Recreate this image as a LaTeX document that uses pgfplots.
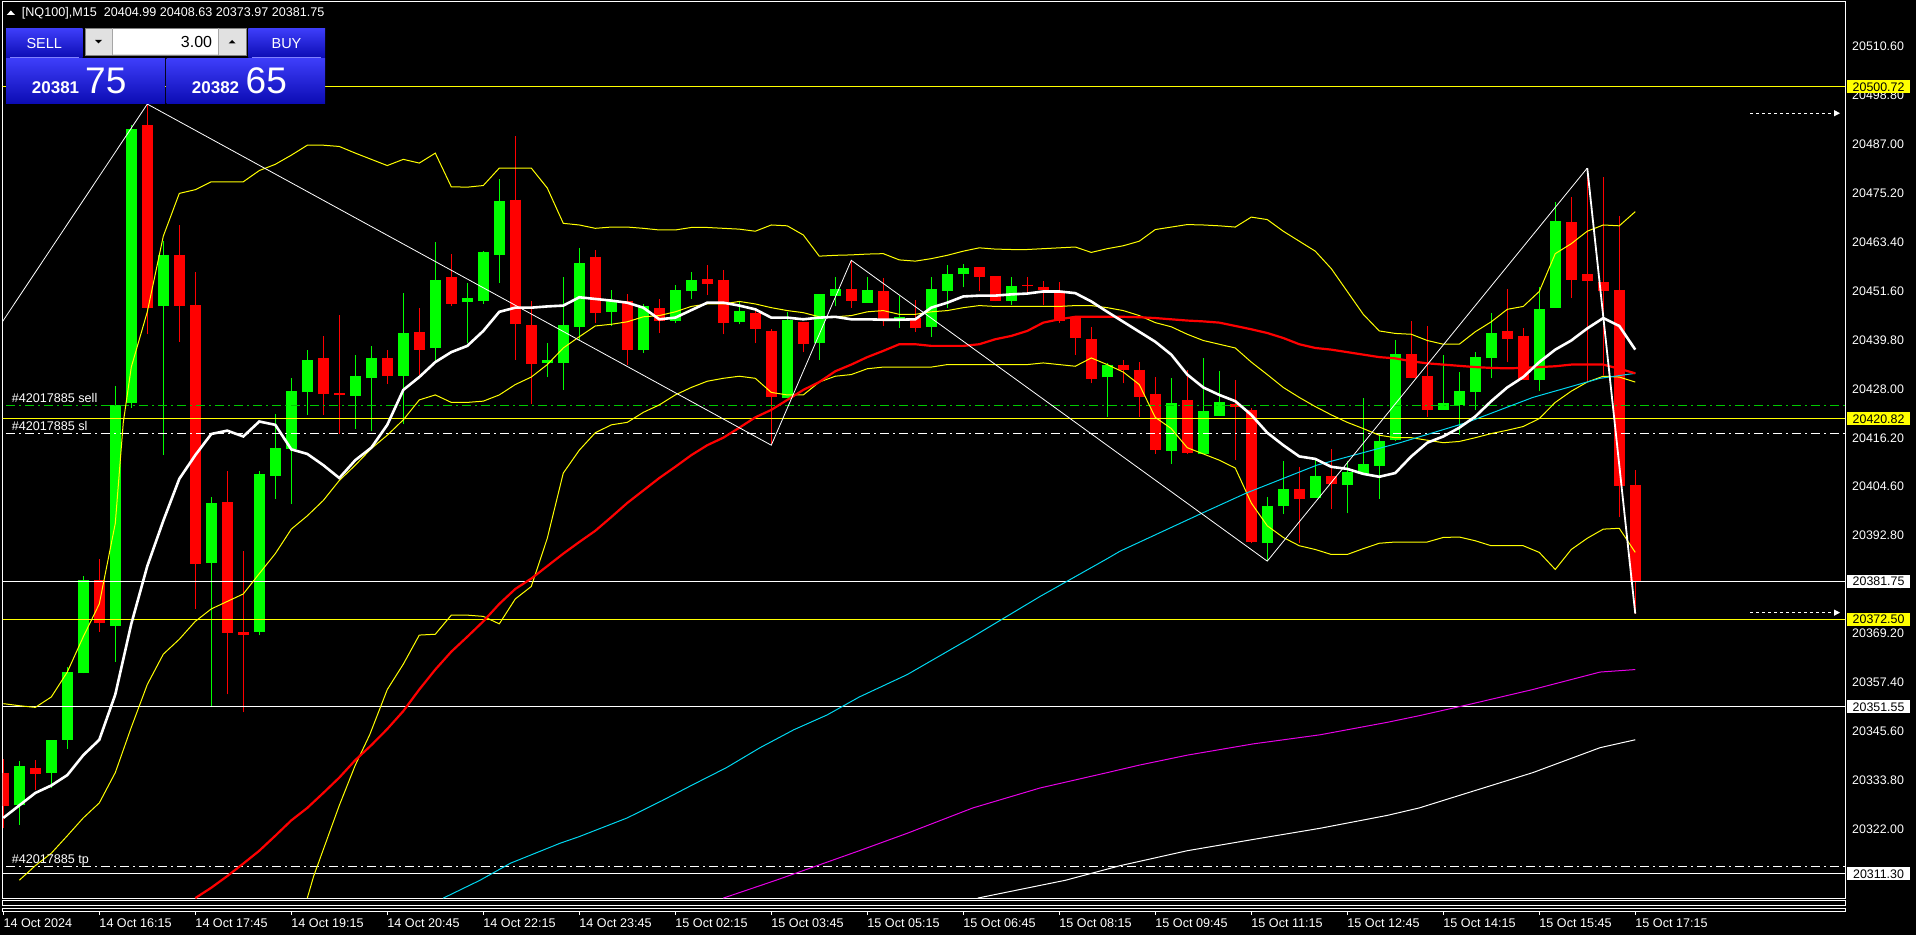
\documentclass[border=0pt]{standalone}
\usepackage{pgfplots}
\pgfplotsset{compat=1.18}
\usepackage{pgfplotstable}
\usepackage{fontspec}
\setmainfont{Liberation Sans}
\usetikzlibrary{arrows.meta}

\definecolor{mtgreen}{RGB}{0,255,0}
\definecolor{mtred}{RGB}{255,0,0}
\definecolor{mtyellow}{RGB}{255,255,0}
\definecolor{mtcyan}{RGB}{0,215,240}
\definecolor{mtmag}{RGB}{230,0,230}
\definecolor{ordgreen}{RGB}{0,200,0}
\definecolor{btntop}{RGB}{62,62,250}
\definecolor{btnbot}{RGB}{12,12,180}
\definecolor{btnline}{RGB}{130,130,255}
\definecolor{spin}{RGB}{225,225,225}

\newcommand\tf{\fontsize{12.6}{15}\selectfont}

\pgfplotstableread{
i O H L C u
0 20335.7 20339.0 20322.3 20327.6 0
1 20327.8 20338.5 20323.2 20337.3 1
2 20336.9 20338.7 20331.4 20335.4 0
3 20335.7 20343.6 20332.0 20343.6 1
4 20343.6 20361.1 20341.4 20359.9 1
5 20359.6 20383.0 20359.6 20382.1 1
6 20382.0 20387.2 20369.6 20371.7 0
7 20371.1 20428.7 20362.4 20424.2 1
8 20424.6 20491.5 20423.4 20490.5 1
9 20491.5 20496.6 20441.2 20447.6 0
10 20447.9 20463.6 20412.1 20460.3 1
11 20460.3 20467.5 20439.4 20447.9 0
12 20448.2 20456.3 20375.1 20385.8 0
13 20386.2 20402.0 20351.4 20400.6 1
14 20400.8 20408.4 20354.5 20369.4 0
15 20369.6 20389.0 20350.2 20368.9 0
16 20369.6 20408.4 20368.7 20407.6 1
17 20407.2 20422.0 20401.5 20413.9 1
18 20413.7 20430.6 20400.3 20427.5 1
19 20427.2 20437.5 20421.8 20435.1 1
20 20435.5 20440.9 20421.8 20426.9 0
21 20427.0 20445.8 20417.2 20426.5 0
22 20426.4 20436.1 20418.5 20431.2 1
23 20430.6 20438.4 20417.8 20435.5 1
24 20435.5 20437.3 20429.3 20431.2 0
25 20431.2 20451.2 20419.7 20441.5 1
26 20441.8 20447.6 20431.5 20437.5 0
27 20437.8 20463.3 20434.5 20454.2 1
28 20454.9 20460.6 20447.9 20448.5 0
29 20448.9 20453.6 20439.0 20449.9 1
30 20449.3 20461.2 20448.5 20461.0 1
31 20460.3 20478.5 20453.6 20473.3 1
32 20473.6 20488.8 20435.1 20443.6 0
33 20443.5 20449.1 20424.4 20434.0 0
34 20434.3 20439.1 20430.9 20434.9 1
35 20434.3 20455.1 20427.8 20443.4 1
36 20442.9 20462.0 20439.7 20458.4 1
37 20459.9 20461.4 20444.0 20446.4 0
38 20446.6 20451.9 20443.2 20449.3 1
39 20449.3 20450.9 20433.9 20437.5 0
40 20437.5 20448.5 20436.7 20447.9 1
41 20447.5 20449.7 20441.5 20444.5 0
42 20444.5 20453.1 20443.9 20451.9 1
43 20451.5 20456.1 20449.6 20454.3 1
44 20454.5 20457.9 20450.6 20453.4 0
45 20454.3 20456.7 20441.2 20443.9 0
46 20444.1 20449.1 20443.6 20446.9 1
47 20446.4 20447.6 20439.0 20442.4 0
48 20442.0 20442.4 20414.5 20426.0 0
49 20425.8 20446.6 20425.8 20444.6 1
50 20444.2 20444.2 20436.9 20438.8 0
51 20439.0 20450.9 20435.1 20450.9 1
52 20450.5 20454.9 20447.9 20452.1 1
53 20452.1 20459.0 20447.6 20449.1 0
54 20448.8 20454.9 20448.8 20451.9 1
55 20451.5 20454.8 20443.2 20444.8 0
56 20444.7 20450.5 20442.8 20445.4 1
57 20445.1 20449.4 20441.8 20442.6 0
58 20442.9 20454.9 20440.6 20452.1 1
59 20451.7 20457.8 20447.6 20455.7 1
60 20455.6 20458.2 20452.5 20457.2 1
61 20457.4 20457.4 20451.7 20454.9 0
62 20455.3 20455.3 20449.1 20449.3 0
63 20449.1 20454.9 20448.2 20452.7 1
64 20453.1 20454.9 20450.9 20452.8 0
65 20452.6 20453.9 20448.2 20451.9 0
66 20451.7 20453.7 20444.0 20444.5 0
67 20445.2 20445.2 20436.3 20440.2 0
68 20440.1 20443.0 20429.4 20430.5 0
69 20430.8 20434.3 20421.4 20433.9 1
70 20433.9 20434.9 20429.4 20432.5 0
71 20432.7 20434.5 20421.4 20426.0 0
72 20426.9 20430.9 20412.4 20413.3 0
73 20413.1 20430.6 20410.0 20424.7 1
74 20425.4 20432.5 20412.4 20412.7 0
75 20412.4 20435.5 20412.4 20422.8 1
76 20421.5 20432.3 20421.5 20424.9 1
77 20424.4 20430.1 20410.9 20423.6 0
78 20423.0 20423.4 20390.9 20391.2 0
79 20390.9 20402.0 20386.6 20399.8 1
80 20399.8 20410.7 20397.9 20404.0 1
81 20404.0 20409.3 20390.9 20401.5 0
82 20401.8 20410.9 20401.8 20407.1 1
83 20407.1 20413.7 20399.1 20405.2 0
84 20404.9 20410.7 20398.1 20408.1 1
85 20407.5 20425.8 20407.5 20410.0 1
86 20409.5 20417.3 20401.5 20415.5 1
87 20415.7 20439.7 20415.5 20436.5 1
88 20436.5 20444.5 20430.6 20430.6 0
89 20431.1 20443.2 20421.2 20423.0 0
90 20423.0 20436.1 20423.0 20424.6 1
91 20424.2 20432.1 20416.9 20427.5 1
92 20427.2 20436.9 20423.0 20435.7 1
93 20435.4 20446.3 20430.6 20441.5 1
94 20442.0 20452.1 20434.5 20440.0 0
95 20440.9 20442.8 20430.3 20430.3 0
96 20430.3 20452.5 20427.6 20447.2 1
97 20447.6 20473.1 20447.6 20468.5 1
98 20468.2 20474.2 20449.9 20454.3 0
99 20455.7 20481.2 20429.7 20453.9 0
100 20453.8 20479.0 20431.5 20451.5 0
101 20451.9 20469.7 20397.2 20404.8 0
102 20404.99 20408.63 20373.97 20381.75 0
}\candles

\pgfplotstableread{
i v
0 20324.8
1 20327.8
2 20330.8
3 20332.6
4 20335.1
5 20339.9
6 20343.6
7 20354.5
8 20371.5
9 20385.4
10 20396.3
11 20406.4
12 20412.1
13 20417.2
14 20418.0
15 20416.6
16 20420.2
17 20419.4
18 20413.5
19 20412.4
20 20409.7
21 20406.6
22 20410.9
23 20413.9
24 20419.4
25 20427.8
26 20430.9
27 20434.5
28 20436.9
29 20438.4
30 20442.0
31 20446.6
32 20447.6
33 20447.6
34 20447.9
35 20448.1
36 20450.1
37 20449.7
38 20449.3
39 20448.8
40 20447.6
41 20444.8
42 20445.2
43 20447.0
44 20448.8
45 20448.8
46 20448.1
47 20447.2
48 20445.2
49 20445.2
50 20444.8
51 20445.2
52 20445.4
53 20444.8
54 20444.8
55 20444.7
56 20444.7
57 20444.8
58 20447.6
59 20448.8
60 20450.3
61 20450.5
62 20450.5
63 20450.8
64 20451.0
65 20451.5
66 20451.5
67 20451.1
68 20449.1
69 20446.6
70 20444.2
71 20441.8
72 20439.4
73 20436.3
74 20431.5
75 20428.4
76 20426.6
77 20425.1
78 20421.8
79 20417.5
80 20414.5
81 20411.8
82 20411.2
83 20409.3
84 20408.8
85 20407.6
86 20406.9
87 20407.8
88 20411.8
89 20415.1
90 20416.6
91 20418.7
92 20421.4
93 20425.1
94 20428.4
95 20430.9
96 20434.5
97 20437.5
98 20439.7
99 20442.6
100 20445.1
101 20443.2
102 20437.5
}\fastma

\pgfplotstableread{
i v
12 20305.5
13 20308.0
14 20310.8
15 20313.8
16 20316.9
17 20320.5
18 20324.2
19 20327.2
20 20330.8
21 20334.5
22 20338.7
23 20342.3
24 20346.2
25 20350.5
26 20355.7
27 20360.5
28 20364.8
29 20368.4
30 20372.1
31 20376.3
32 20379.9
33 20382.4
34 20385.4
35 20388.4
36 20391.2
37 20393.9
38 20397.2
39 20400.6
40 20403.6
41 20406.6
42 20409.3
43 20412.1
44 20414.5
45 20416.3
46 20418.7
47 20421.2
48 20423.0
49 20425.4
50 20427.8
51 20429.7
52 20432.3
53 20433.9
54 20435.7
55 20437.2
56 20438.8
57 20438.8
58 20438.4
59 20438.4
60 20438.4
61 20438.8
62 20440.0
63 20440.8
64 20442.0
65 20444.0
66 20444.8
67 20445.4
68 20445.4
69 20445.4
70 20445.4
71 20445.3
72 20445.1
73 20444.8
74 20444.5
75 20444.3
76 20444.0
77 20443.2
78 20442.4
79 20441.5
80 20440.3
81 20438.8
82 20437.9
83 20437.5
84 20436.9
85 20436.3
86 20435.7
87 20435.4
88 20434.7
89 20434.2
90 20433.9
91 20433.6
92 20433.3
93 20433.1
94 20433.0
95 20433.1
96 20433.3
97 20433.5
98 20433.9
99 20433.9
100 20433.9
101 20432.9
102 20431.8
}\redma

\pgfplotstableread{
i v
27.5 20305.5
29.8 20309.8
31.7 20313.9
34.8 20318.7
36.0 20320.3
39.0 20324.8
41.2 20329.0
43.0 20332.6
45.2 20336.9
47.3 20341.7
49.4 20346.0
51.5 20349.6
53.5 20353.9
56.5 20359.3
60.6 20368.4
64.8 20378.1
69.0 20387.2
69.8 20389.0
74.9 20398.1
77.7 20403.0
82.1 20409.7
87.3 20415.1
91.5 20420.0
95.6 20426.0
99.8 20430.6
102 20431.8
}\cyanma

\pgfplotstableread{
i v
45.0 20305.5
48.3 20309.8
53.5 20316.9
56.5 20321.1
60.6 20327.2
64.8 20332.0
69.0 20335.7
71.0 20337.5
74.0 20339.9
78.1 20342.6
82.3 20344.8
86.5 20347.8
88.5 20349.4
91.5 20352.0
95.6 20355.7
99.8 20359.9
102 20360.5
}\magma

\pgfplotstableread{
i v
60.9 20305.5
66.4 20309.8
69.8 20313.3
74.0 20316.9
78.1 20319.6
82.3 20322.3
86.5 20325.4
88.5 20327.2
91.5 20330.8
95.6 20335.7
99.8 20341.7
102 20343.6
}\slowma

\pgfplotstableread{
i v
0 20352.3
1 20351.8
2 20351.4
3 20353.9
4 20359.9
5 20368.4
6 20376.3
7 20395.7
7.5 20420.0
8 20433.3
9 20446.6
10 20464.8
11 20475.1
12 20476.0
13 20477.9
14 20477.9
15 20477.9
16 20480.6
17 20482.1
18 20484.3
19 20486.7
20 20486.7
21 20486.4
22 20484.8
23 20483.3
24 20481.8
25 20483.3
26 20482.4
27 20484.8
28 20476.7
29 20476.6
30 20477.0
31 20481.2
32 20481.2
33 20481.2
34 20476.4
35 20467.9
36 20467.5
37 20466.7
38 20467.0
39 20467.0
40 20466.7
41 20466.3
42 20466.3
43 20466.9
44 20466.9
45 20466.7
46 20466.5
47 20466.0
48 20467.5
49 20467.3
50 20465.1
51 20460.0
52 20460.2
53 20460.3
54 20460.5
55 20460.6
56 20459.1
57 20458.8
58 20459.4
59 20460.2
60 20461.2
61 20462.0
62 20461.7
63 20461.6
64 20461.6
65 20461.8
66 20462.0
67 20462.2
68 20460.9
69 20461.8
70 20462.5
71 20463.6
72 20466.4
73 20467.0
74 20467.6
75 20467.5
76 20467.3
77 20467.0
78 20469.4
79 20468.8
80 20466.0
81 20463.6
82 20461.2
83 20457.0
84 20451.5
85 20446.0
86 20442.0
87 20441.4
88 20441.2
89 20439.7
90 20438.8
91 20438.8
92 20441.8
93 20444.2
94 20447.2
95 20447.9
96 20451.5
97 20460.6
98 20463.0
99 20466.0
100 20467.5
101 20467.3
102 20470.7
}\bbup

\pgfplotstableread{
i v
1 20309.8
2 20313.3
3 20316.3
4 20320.5
5 20324.8
6 20328.4
7 20335.7
8 20346.6
9 20356.9
10 20364.2
11 20367.8
12 20372.1
13 20375.1
14 20376.9
15 20378.7
16 20383.6
17 20388.4
18 20394.3
19 20397.5
20 20401.2
21 20406.0
22 20409.7
23 20413.7
24 20416.9
25 20420.6
26 20425.4
27 20426.6
28 20424.8
29 20424.8
30 20425.1
31 20426.6
32 20429.1
33 20430.9
34 20433.9
35 20437.9
36 20440.6
37 20443.2
38 20443.6
39 20444.2
40 20445.4
41 20445.7
42 20446.6
43 20447.9
44 20448.5
45 20448.5
46 20449.1
47 20448.5
48 20447.6
49 20446.9
50 20446.4
51 20445.4
52 20445.4
53 20445.7
54 20446.6
55 20446.9
56 20446.0
57 20446.0
58 20446.6
59 20446.9
60 20447.6
61 20448.1
62 20447.9
63 20447.9
64 20447.9
65 20447.9
66 20447.9
67 20448.1
68 20448.1
69 20447.6
70 20446.9
71 20445.7
72 20444.0
73 20443.0
74 20441.2
75 20439.7
76 20438.8
77 20437.9
78 20434.5
79 20431.5
80 20428.4
81 20426.0
82 20423.8
83 20421.8
84 20420.0
85 20418.5
86 20416.9
87 20416.3
88 20416.3
89 20415.7
90 20415.1
91 20415.4
92 20416.3
93 20417.3
94 20418.1
95 20419.0
96 20420.9
97 20424.8
98 20427.5
99 20429.7
100 20431.1
101 20430.9
102 20429.7
}\bbmid

\pgfplotstableread{
i v
19.0 20305.5
19.4 20310.8
21 20327.8
22 20337.5
22.9 20344.8
24 20355.7
25 20361.8
26 20368.8
27 20369.0
28 20373.6
29 20373.6
30 20373.3
31 20371.5
32 20377.5
33 20380.5
34 20392.1
35 20407.8
36 20413.3
37 20417.5
38 20419.4
39 20420.0
40 20422.4
41 20424.2
42 20426.6
43 20428.4
44 20429.9
45 20430.6
46 20431.1
47 20430.6
48 20427.2
49 20426.6
50 20426.6
51 20429.7
52 20431.1
53 20431.5
54 20432.9
55 20433.3
56 20433.3
57 20433.3
58 20433.3
59 20433.9
60 20433.9
61 20433.9
62 20433.9
63 20433.9
64 20433.9
65 20434.3
66 20433.9
67 20433.5
68 20435.5
69 20433.9
70 20432.1
71 20429.1
72 20421.2
73 20418.5
74 20413.9
75 20412.4
76 20410.9
77 20409.0
78 20400.6
79 20395.1
80 20392.3
81 20390.3
82 20389.4
83 20388.2
84 20388.2
85 20389.6
86 20390.9
87 20391.2
88 20391.2
89 20391.2
90 20392.3
91 20392.4
92 20391.5
93 20390.3
94 20390.3
95 20390.3
96 20388.7
97 20384.6
98 20389.4
99 20392.1
100 20394.3
101 20394.5
102 20388.7
}\bblow

\pgfplotstableread{
i v
-0.04 20444.3
9 20496.6
48 20414.5
53 20459.0
79 20386.6
99 20481.2
}\zigzag

\begin{document}
\begin{tikzpicture}
\fill[black] (0pt,0pt) rectangle (1916pt,935pt);
\path[use as bounding box] (0pt,0pt) rectangle (1916pt,935pt);
\begin{axis}[
  at={(2.7pt,37pt)}, anchor=south west,
  scale only axis, width=1842.3pt, height=896pt,
  xmin=-0.0375, xmax=115.11, ymin=20305.52, ymax=20521.17,
  scaled x ticks=false, scaled y ticks=false,
  axis line style={white, line width=1pt},
  tick align=outside, major tick length=0pt,
  xtick={0,6,...,102},
  xticklabels={14 Oct 2024,14 Oct 16:15,14 Oct 17:45,14 Oct 19:15,14 Oct 20:45,14 Oct 22:15,14 Oct 23:45,15 Oct 02:15,15 Oct 03:45,15 Oct 05:15,15 Oct 06:45,15 Oct 08:15,15 Oct 09:45,15 Oct 11:15,15 Oct 12:45,15 Oct 14:15,15 Oct 15:45,15 Oct 17:15},
  xticklabel style={anchor=west, inner sep=0pt, yshift=-24.7pt, text=white, font=\tf},
  ytick={20322.00,20333.80,20345.60,20357.40,20369.20,20381.00,20392.80,20404.60,20416.20,20428.00,20439.80,20451.60,20463.40,20475.20,20487.00,20498.80,20510.60},
  yticklabels={20322.00,20333.80,20345.60,20357.40,20369.20,20381.00,20392.80,20404.60,20416.20,20428.00,20439.80,20451.60,20463.40,20475.20,20487.00,20498.80,20510.60},
  yticklabel pos=right, ytick pos=right,
  yticklabel style={anchor=west, inner sep=0pt, xshift=7pt, text=white, font=\fontsize{12.4}{15}\selectfont},
  tick style={white, line width=1pt},
]
% candles: wick from low to high, body from open to close
\pgfplotsinvokeforeach{0,...,102}{
  \pgfplotstablegetelem{#1}{O}\of\candles \let\vO\pgfplotsretval
  \pgfplotstablegetelem{#1}{H}\of\candles \let\vH\pgfplotsretval
  \pgfplotstablegetelem{#1}{L}\of\candles \let\vL\pgfplotsretval
  \pgfplotstablegetelem{#1}{C}\of\candles \let\vC\pgfplotsretval
  \pgfplotstablegetelem{#1}{u}\of\candles
  \ifnum\pgfplotsretval=1 \def\col{mtgreen}\else\def\col{mtred}\fi
  \edef\temp{%
    \noexpand\addplot[\col, line width=1pt, forget plot] coordinates {(#1,\vL) (#1,\vH)};
    \noexpand\addplot[\col, line width=11pt, forget plot] coordinates {(#1,\vO) (#1,\vC)};
  }\temp
}

% horizontal levels
\addplot[mtyellow, line width=1pt] coordinates {(-1,20500.72) (116,20500.72)};
\addplot[ordgreen, line width=1pt, dash pattern=on 9pt off 4pt on 2pt off 4pt] coordinates {(-1,20424.0) (116,20424.0)};
\addplot[mtyellow, line width=1pt] coordinates {(-1,20420.82) (116,20420.82)};
\addplot[white, line width=1pt, dash pattern=on 9pt off 4pt on 2pt off 4pt] coordinates {(-1,20417.2) (116,20417.2)};
\addplot[white, line width=1pt] coordinates {(-1,20381.75) (116,20381.75)};
\addplot[mtyellow, line width=1pt] coordinates {(-1,20372.50) (116,20372.50)};
\addplot[white, line width=1pt] coordinates {(-1,20351.55) (116,20351.55)};
\addplot[white, line width=1pt, dash pattern=on 9pt off 4pt on 2pt off 4pt] coordinates {(-1,20313.2) (116,20313.2)};
\addplot[white, line width=1pt] coordinates {(-1,20311.30) (116,20311.30)};
\addplot[white, line width=1pt, dash pattern=on 3pt off 3pt, -{Triangle[length=6pt,width=6pt]}] coordinates {(109.2,20494.4) (114.8,20494.4)};
\addplot[white, line width=1pt, dash pattern=on 3pt off 3pt, -{Triangle[length=6pt,width=6pt]}] coordinates {(109.2,20374.2) (114.8,20374.2)};

% indicators
\addplot[mtyellow, line width=1pt] table[x=i, y=v] {\bbup};
\addplot[mtyellow, line width=1pt] table[x=i, y=v] {\bbmid};
\addplot[mtyellow, line width=1pt] table[x=i, y=v] {\bblow};
\addplot[white, line width=1pt] table[x=i, y=v] {\slowma};
\addplot[mtmag, line width=1pt] table[x=i, y=v] {\magma};
\addplot[mtcyan, line width=1pt] table[x=i, y=v] {\cyanma};
\addplot[mtred, line width=2.2pt] table[x=i, y=v] {\redma};
\addplot[white, line width=2.6pt] table[x=i, y=v] {\fastma};
\addplot[white, line width=0.8pt] table[x=i, y=v] {\zigzag};
\addplot[white, line width=1.8pt] coordinates {(99,20481.2) (102,20373.97)};

% order labels
\node[anchor=base west, inner sep=0pt, text=white, font=\tf, yshift=3pt] at (axis cs:0.525,20424.0) {\#42017885 sell};
\node[anchor=base west, inner sep=0pt, text=white, font=\tf, yshift=3pt] at (axis cs:0.525,20417.2) {\#42017885 sl};
\node[anchor=base west, inner sep=0pt, text=white, font=\tf, yshift=3pt] at (axis cs:0.525,20313.2) {\#42017885 tp};

\coordinate (b1) at (axis cs:115.11,20500.72);
\coordinate (b2) at (axis cs:115.11,20420.82);
\coordinate (b3) at (axis cs:115.11,20381.75);
\coordinate (b4) at (axis cs:115.11,20372.50);
\coordinate (b5) at (axis cs:115.11,20351.55);
\coordinate (b6) at (axis cs:115.11,20311.30);
\end{axis}

% price boxes on the right scale
\foreach \c/\t/\col in {b1/20500.72/mtyellow, b2/20420.82/mtyellow, b3/20381.75/white, b4/20372.50/mtyellow, b5/20351.55/white, b6/20311.30/white}{
  \node[fill=\col, anchor=west, minimum width=63.3pt, minimum height=13pt, inner sep=0pt, xshift=1.7pt, text=black, font=\fontsize{12.4}{15}\selectfont] at (\c) {\t};
}

% bottom sub-window frames and time ticks
\draw[white, line width=1pt] (2.7pt,34.3pt) rectangle (1845pt,29.3pt);
\draw[white, line width=1pt] (2.7pt,27pt) rectangle (1845pt,23.5pt);
\foreach \k in {0,...,17}{\draw[white, line width=1pt] ({3.3pt+96pt*\k},23.5pt) -- ++(0,-3pt);}

% header
\fill[white] (6.7pt,920pt) -- (15pt,920pt) -- (10.85pt,924.5pt) -- cycle;
\node[anchor=west, inner sep=0pt, text=white, font=\tf] at (21.7pt,922pt) {[NQ100],M15\ \ 20404.99 20408.63 20373.97 20381.75};

% one-click trading panel
\shade[top color=btntop, bottom color=btnbot] (6pt,906.7pt) rectangle (82.7pt,877.3pt);
\shade[top color=btntop, bottom color=btnbot] (248.3pt,906.7pt) rectangle (325pt,877.3pt);
\draw[btnline, line width=1pt] (10pt,877.7pt) -- (79pt,877.7pt);
\draw[btnline, line width=1pt] (252pt,877.7pt) -- (321pt,877.7pt);
\node[text=white, font=\fontsize{14.5}{16}\selectfont] at (44.3pt,891.8pt) {SELL};
\node[text=white, font=\fontsize{14.5}{16}\selectfont] at (286.5pt,891.8pt) {BUY};
\fill[spin] (85pt,906.7pt) rectangle (246pt,880pt);
\fill[white] (112.3pt,905.7pt) rectangle (218.3pt,881pt);
\draw[gray, line width=0.8pt] (85pt,906.7pt) rectangle (246pt,880pt);
\draw[gray!70, line width=0.8pt] (112.3pt,906.7pt) -- (112.3pt,880pt) (218.3pt,906.7pt) -- (218.3pt,880pt);
\fill[black] (95pt,895pt) -- (102pt,895pt) -- (98.5pt,891.5pt) -- cycle;
\fill[black] (228.6pt,891.5pt) -- (235.6pt,891.5pt) -- (232.1pt,895pt) -- cycle;
\node[anchor=east, inner sep=0pt, text=black, font=\fontsize{16}{18}\selectfont] at (212.3pt,892.8pt) {3.00};
\shade[top color=btntop, bottom color=btnbot] (6pt,876.7pt) rectangle (165pt,831.7pt);
\shade[top color=btntop, bottom color=btnbot] (166.7pt,876.7pt) rectangle (325pt,831.7pt);
\node[anchor=base west, inner sep=0pt, text=white, font=\fontsize{17}{19}\bfseries] at (31.7pt,841.7pt) {20381};
\node[anchor=base west, inner sep=0pt, text=white, font=\fontsize{37}{40}\selectfont] at (85pt,841.7pt) {75};
\node[anchor=base west, inner sep=0pt, text=white, font=\fontsize{17}{19}\bfseries] at (191.7pt,841.7pt) {20382};
\node[anchor=base west, inner sep=0pt, text=white, font=\fontsize{37}{40}\selectfont] at (245.5pt,841.7pt) {65};
\end{tikzpicture}
\end{document}
